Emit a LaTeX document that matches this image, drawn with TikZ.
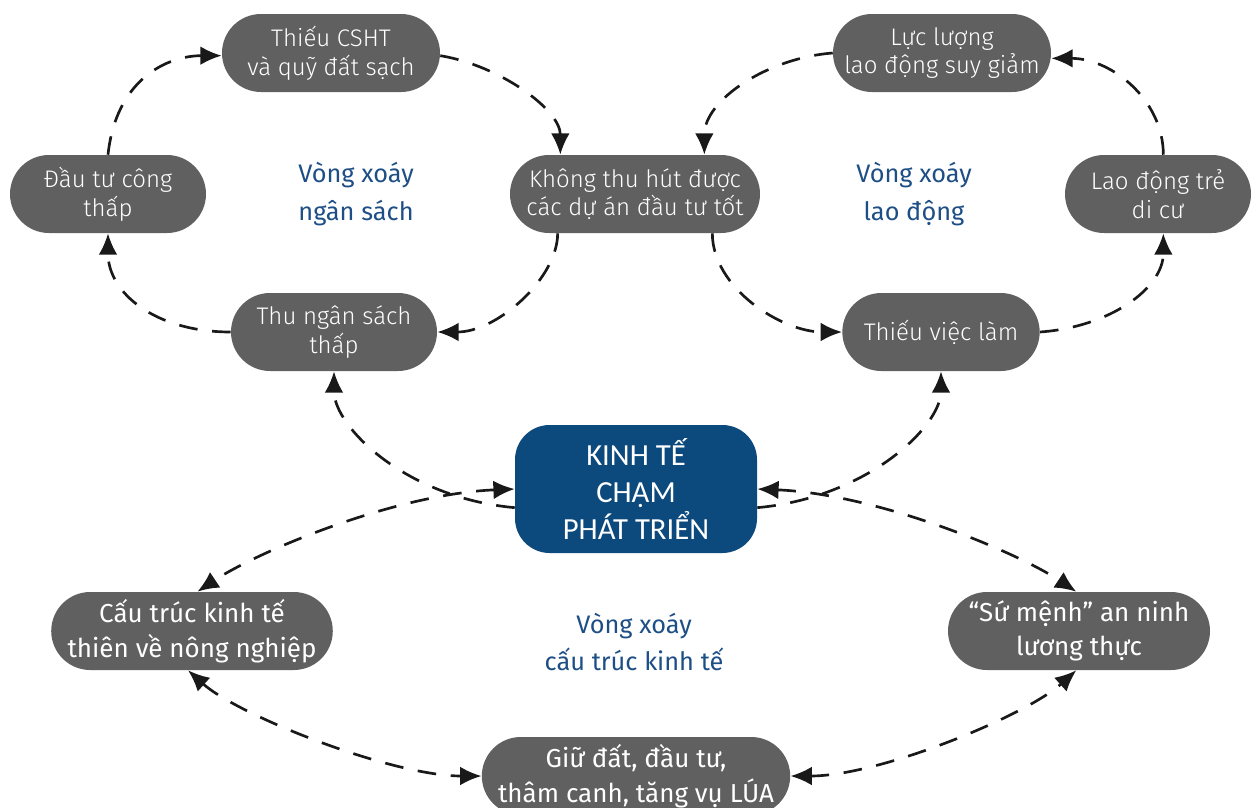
\documentclass[tikz,border=0pt]{standalone}
\usepackage{fontspec}
\setmainfont{Fira Sans Light}
\newfontfamily\labelfont{Fira Sans}
\newfontfamily\corefont{Carlito}
\usetikzlibrary{arrows.meta,shapes.misc}
\definecolor{causegray}{HTML}{606060}
\definecolor{coreblue}{HTML}{0C497D}
\definecolor{loopblue}{HTML}{1D4E85}
\tikzset{
  cause/.style={rounded rectangle, fill=causegray, text=white, align=center,
    inner sep=0pt, minimum height=58.5pt, font=\fontsize{18}{21.5}\selectfont},
  causebig/.style={cause, font=\labelfont\fontsize{19.5}{26}\selectfont},
  core/.style={rectangle, rounded corners=26pt, fill=coreblue, text=white,
    align=center, minimum width=181.5pt, minimum height=96pt,
    font=\corefont\fontsize{23}{28}\selectfont},
  looplabel/.style={text=loopblue, align=center,
    font=\labelfont\fontsize{19}{28}\selectfont},
  link/.style={draw=black!90, line width=2pt, dash pattern=on 14pt off 11pt,
    -{Latex[length=16pt,width=14pt]}},
  twoway/.style={link, {Latex[length=16pt,width=14pt]}-{Latex[length=16pt,width=14pt]}}
}
\begin{document}
\begin{tikzpicture}[x=0.75pt,y=0.75pt,yscale=-1,xscale=1]
    \useasboundingbox (0,0) rectangle (1252,807);
    \clip (0,0) rectangle (1252,807);
    % budget loop
    \node[cause, minimum width=163.5pt] (cshht) at (331,53) {Thiếu CSHT\\và quỹ đất sạch};
    \node[cause, minimum width=147pt] (dtc) at (108,194) {Đầu tư công\\thấp};
    \node[cause, minimum width=154.5pt] (tns) at (334,332) {Thu ngân sách\\thấp};
    \node[cause, minimum width=187.5pt] (kth) at (635,194) {Không thu hút được\\các dự án đầu tư tốt};
    % labour loop
    \node[cause, minimum width=163.5pt] (llg) at (942,53) {Lực lượng\\lao động suy giảm};
    \node[cause, minimum width=139.5pt] (ldt) at (1158,194) {Lao động trẻ\\di cư};
    \node[cause, minimum width=148pt] (tvl) at (941,332) {Thiếu việc làm};
    % centre
    \node[core] (kte) at (636,489) {KINH TẾ\\CHẬM\\PHÁT TRIỂN};
    % structure loop
    \node[causebig, minimum width=196pt] (ctk) at (192,631) {Cấu trúc kinh tế\\thiên về nông nghiệp};
    \node[causebig, minimum width=196.5pt] (smn) at (1079,631) {“Sứ mệnh” an ninh\\lương thực};
    \node[causebig, minimum width=230pt] (gd) at (636,776) {Giữ đất, đầu tư,\\thâm canh, tăng vụ LÚA};
    % loop names
    \node[looplabel] (lns) at (356,194) {Vòng xoáy\\ngân sách};
    \node[looplabel] (lld) at (914,194) {Vòng xoáy\\lao động};
    \node[looplabel] (lct) at (634,642) {Vòng xoáy\\cấu trúc kinh tế};
    % budget loop arrows
    \draw[link] (dtc.north) .. controls +(8,-75) and +(-55,0) .. ([yshift=2pt]cshht.west);
    \draw[link] ([yshift=2pt]cshht.east) .. controls +(60,10) and +(0,-45) .. ([xshift=-56pt]kth.north);
    \draw[link] ([xshift=-58pt]kth.south) .. controls +(0,45) and +(60,0) .. (tns.east);
    \draw[link] (tns.west) .. controls +(-75,0) and +(0,60) .. (dtc.south);
    % labour loop arrows
    \draw[link] ([xshift=58pt]kth.south) .. controls +(0,55) and +(-60,0) .. (tvl.west);
    \draw[link] (tvl.east) .. controls +(70,-5) and +(0,55) .. ([xshift=4pt]ldt.south);
    \draw[link] ([xshift=4pt]ldt.north) .. controls +(0,-55) and +(60,0) .. ([yshift=4pt]llg.east);
    \draw[link] (llg.west) .. controls +(-65,5) and +(0,-55) .. ([xshift=52pt]kth.north);
    % from the centre
    \draw[link] ([yshift=14pt]kte.west) .. controls +(-110,-10) and +(0,55) .. (tns.south);
    \draw[link] ([yshift=14pt]kte.east) .. controls +(110,-10) and +(0,55) .. (tvl.south);
    % structure loop arrows
    \draw[twoway] (kte.west) .. controls +(-120,5) and +(60,-40) .. ([xshift=4pt]ctk.north);
    \draw[twoway] (kte.east) .. controls +(120,5) and +(-60,-40) .. ([xshift=-2pt]smn.north);
    \draw[twoway] ([xshift=-3pt]ctk.south) .. controls +(50,45) and +(-90,0) .. (gd.west);
    \draw[twoway] (gd.east) .. controls +(90,0) and +(-50,45) .. ([xshift=-2pt]smn.south);
\end{tikzpicture}
\end{document}
